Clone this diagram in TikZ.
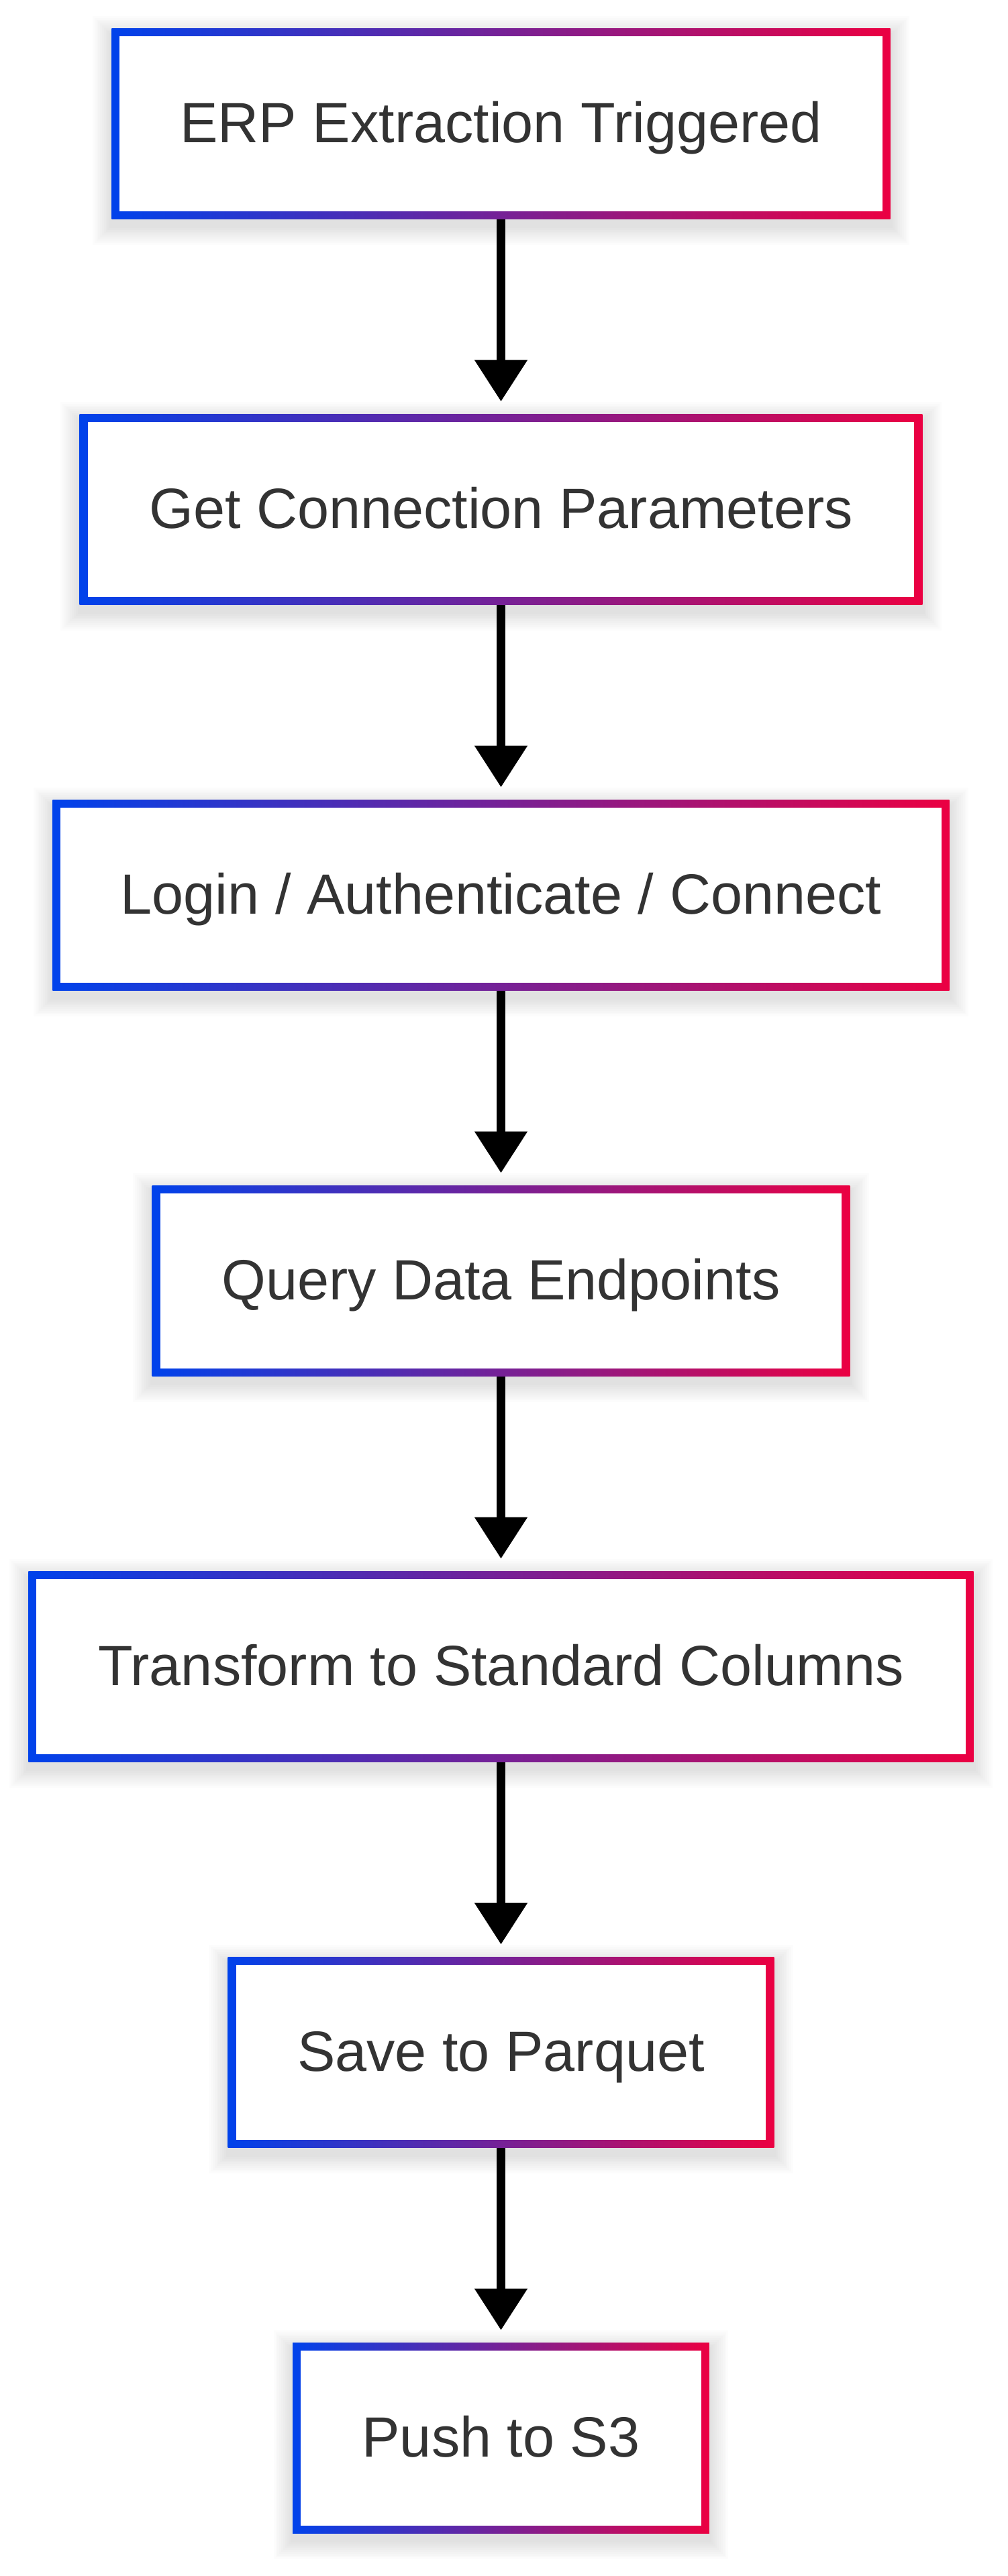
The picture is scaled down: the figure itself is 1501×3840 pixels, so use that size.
\documentclass[tikz,border=0pt]{standalone}
\usepackage{fontspec}
\setmainfont{Liberation Sans}
\usetikzlibrary{arrows.meta,backgrounds}
\definecolor{gblue}{HTML}{0042EB}
\definecolor{gred}{HTML}{EB0042}
\definecolor{txtgray}{HTML}{333333}
\begin{document}
\begin{tikzpicture}[x=0.5pt,y=-0.5pt,
  gbox/.style={rectangle, inner sep=0pt, minimum height=142.2pt,
    text height=28.2pt, text depth=0pt, text=txtgray,
    font=\fontsize{42.3pt}{50pt}\selectfont,
    path picture={
      \shade[left color=gblue, right color=gred]
        (path picture bounding box.south west) rectangle (path picture bounding box.north east);
      \fill[white]
        ([xshift=6pt,yshift=6pt]path picture bounding box.south west) rectangle
        ([xshift=-6pt,yshift=-6pt]path picture bounding box.north east);
    }},
  arr/.style={line width=6.1pt, -{Triangle[length=31pt,width=38pt]}, shorten >=9.2pt}]
\useasboundingbox (0,0) rectangle (1501,3840);

\node[gbox, minimum width=580.2pt]  (n1) at (746.5,184.5)  {ERP Extraction Triggered};
\node[gbox, minimum width=627.8pt]  (n2) at (746.5,759.5)  {Get Connection Parameters};
\node[gbox, minimum width=668.2pt]  (n3) at (746.5,1334.5) {Login / Authenticate / Connect};
\node[gbox, minimum width=519.8pt]  (n4) at (746.5,1909.5) {Query Data Endpoints};
\node[gbox, minimum width=704.2pt]  (n5) at (746.5,2484.5) {Transform to Standard Columns};
\node[gbox, minimum width=406.8pt]  (n6) at (746.5,3059.5) {Save to Parquet};
\node[gbox, minimum width=310.35pt] (n7) at (746.5,3634.5) {Push to S3};

\draw[arr] (n1.south) -- (n2.north);
\draw[arr] (n2.south) -- (n3.north);
\draw[arr] (n3.south) -- (n4.north);
\draw[arr] (n4.south) -- (n5.north);
\draw[arr] (n5.south) -- (n6.north);
\draw[arr] (n6.south) -- (n7.north);

\begin{scope}[on background layer]
  \fill[white] (0,0) rectangle (1501,3840);
  \foreach \n in {n1,n2,n3,n4,n5,n6,n7}{
    \foreach \i in {1,...,10}{
      \fill[black, opacity=0.012]
        ([xshift={-\i*1.4pt}, yshift={-5pt-\i*1.4pt}]\n.south west) rectangle
        ([xshift={\i*1.4pt}, yshift={-5pt+\i*1.4pt}]\n.north east);
    }
  }
\end{scope}
\end{tikzpicture}
\end{document}
